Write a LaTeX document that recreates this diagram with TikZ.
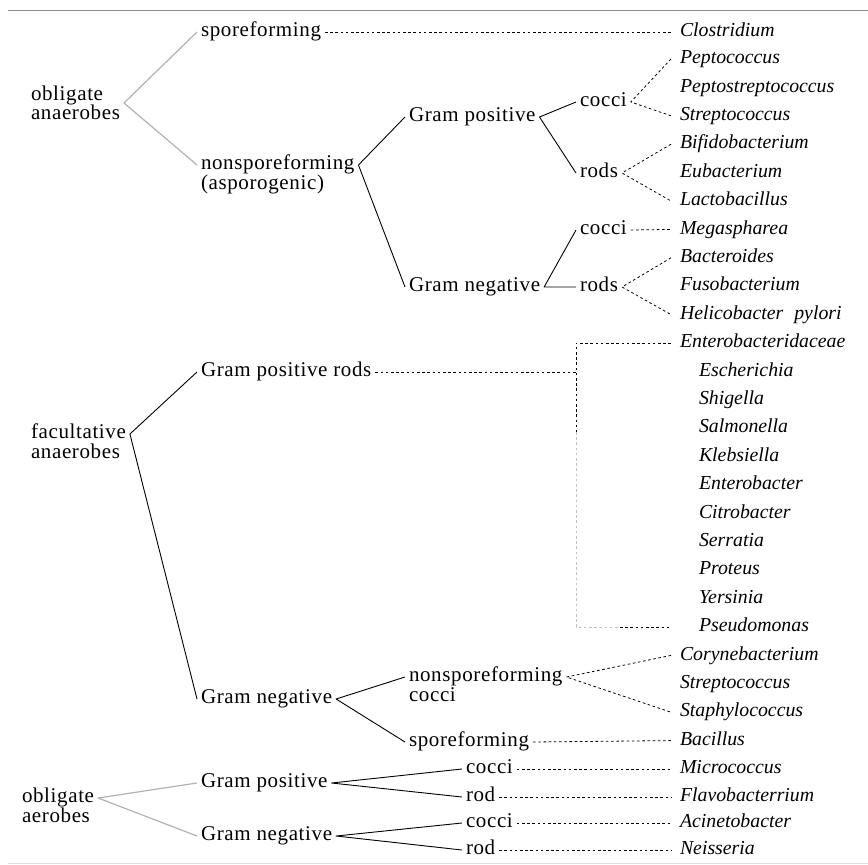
\documentclass[tikz,border=0pt]{standalone}
\usepackage{fontspec}
\setmainfont{Liberation Serif}[LetterSpace=3]
\newfontfamily\spfont{Liberation Serif}
\begin{document}
\begin{tikzpicture}[x=1pt,y=-1pt,
  lbl/.style={anchor=west,inner sep=0pt,outer xsep=4pt,font=\fontsize{21}{19}\selectfont,text height=13pt,text depth=3.5pt},
  lbltwo/.style={anchor=west,inner sep=0pt,outer xsep=4pt,font=\fontsize{21}{19.5}\selectfont,align=left},
  sp/.style={anchor=west,inner sep=0pt,outer xsep=9pt,font=\spfont\itshape\fontsize{19.8}{20}\selectfont,text height=13pt,text depth=3.5pt},
  ln/.style={line width=0.9pt,line join=round},
  gln/.style={line width=1.2pt,color=black!30,line join=round},
  dln/.style={line width=0.8pt,dash pattern=on 2.6pt off 2.6pt},
  rule/.style={line width=1pt},
]
\useasboundingbox (0,0) rectangle (868,865);
\draw[rule,black!45] (8,10) -- (868,10);
\draw[rule,black!12] (8,863) -- (868,863);

% ---- labels (upright)
\node[lbltwo] (oa) at (27,103) {obligate\\anaerobes};
\node[lbl] (spf) at (197,32) {sporeforming};
\node[lbl] (nsp) at (197,165) {nonsporeforming};
\node[lbl] (nsp2) at (197,185) {(asporogenic)};
\node[lbl] (gp1) at (405,117) {Gram positive};
\node[lbl] (gn1) at (405,287) {Gram negative};
\node[lbl] (c1) at (576,102) {cocci};
\node[lbl] (r1) at (576,173) {rods};
\node[lbl] (c2) at (576,230) {cocci};
\node[lbl] (r2) at (576,287) {rods};
\node[lbl] (fa) at (27,434) {facultative};
\node[lbl] (fa2) at (27,454) {anaerobes};
\node[lbl] (gpr) at (197,372) {Gram positive rods};
\node[lbl] (gn2) at (197,699) {Gram negative};
\node[lbl] (nsp3) at (405,677) {nonsporeforming};
\node[lbl] (nsp4) at (405,697) {cocci};
\node[lbl] (spf2) at (405,742) {sporeforming};
\node[lbl] (ob) at (18,798) {obligate};
\node[lbl] (ob2) at (18,818) {aerobes};
\node[lbl] (gp3) at (197,783) {Gram positive};
\node[lbl] (gn3) at (197,836) {Gram negative};
\node[lbl] (c3) at (462,769) {cocci};
\node[lbl] (r3) at (462,797) {rod};
\node[lbl] (c4) at (462,823) {cocci};
\node[lbl] (r4) at (462,850) {rod};

% ---- species (italic)
\node[sp] (clo) at (671,32) {Clostridium};
\node[sp] (pep) at (671,59) {Peptococcus};
\node[sp] (pst) at (671,87.4) {Peptostreptococcus};
\node[sp] (stra) at (671,115.8) {Streptococcus};
\node[sp] (bif) at (671,144.2) {Bifidobacterium};
\node[sp] (eub) at (671,172.6) {Eubacterium};
\node[sp] (lac) at (671,201) {Lactobacillus};
\node[sp] (meg) at (671,229.4) {Megaspharea};
\node[sp] (bac) at (671,257.8) {Bacteroides};
\node[sp] (fus) at (671,286.2) {Fusobacterium};
\node[sp] (hel) at (671,314.6) {Helicobacter\hspace{6pt} pylori};
\node[sp] (ent) at (671,343) {Enterobacteridaceae};
\node[sp] (esc) at (690,371.4) {Escherichia};
\node[sp] (shi) at (690,399.8) {Shigella};
\node[sp] (sal) at (690,428.2) {Salmonella};
\node[sp] (kle) at (690,456.6) {Klebsiella};
\node[sp] (enb) at (690,485) {Enterobacter};
\node[sp] (cit) at (690,513.4) {Citrobacter};
\node[sp] (ser) at (690,541.8) {Serratia};
\node[sp] (pro) at (690,570.2) {Proteus};
\node[sp] (yer) at (690,598.6) {Yersinia};
\node[sp] (pse) at (690,627) {Pseudomonas};
\node[sp] (cor) at (671,655.4) {Corynebacterium};
\node[sp] (strb) at (671,683.8) {Streptococcus};
\node[sp] (sta) at (671,712.2) {Staphylococcus};
\node[sp] (bcl) at (671,740.6) {Bacillus};
\node[sp] (mic) at (671,769) {Micrococcus};
\node[sp] (fla) at (671,797) {Flavobacterrium};
\node[sp] (aci) at (671,823) {Acinetobacter};
\node[sp] (nei) at (671,850) {Neisseria};

% ---- obligate anaerobes
\draw[gln] (spf.west) -- (oa.east) -- (nsp.west);
\draw[dln] (spf.east) -- (clo.west);
\draw[ln] (gp1.west) -- (nsp.east) -- (gn1.west);
\draw[ln] (c1.west) -- (gp1.east) -- (r1.west);
\draw[dln] (pep.west) -- (c1.east) -- (stra.west);
\draw[dln] (bif.west) -- (r1.east) -- (lac.west);
\draw[ln] (c2.west) -- (gn1.east) -- (r2.west);
\draw[dln] (c2.east) -- (meg.west);
\draw[dln] (bac.west) -- (r2.east) -- (hel.west);

% ---- facultative anaerobes
\draw[ln] (gpr.west) -- (fa.east) -- (gn2.west);
\coordinate (brt) at (576,343);
\coordinate (brm) at (576,372);
\coordinate (brg) at (576,432);
\coordinate (brb) at (576,627);
\coordinate (brk) at (620,627);
\draw[dln] (gpr.east) -- (brm);
\draw[dln] (ent.west) -- (brt) -- (brg);
\draw[dln,black!25] (brg) -- (brb) -- (brk);
\draw[dln] (brk) -- ([xshift=-20pt]pse.west);
\draw[ln] (nsp3.west) -- (gn2.east) -- (spf2.west);
\draw[dln] (cor.west) -- (nsp3.east) -- (sta.west);
\draw[dln] (spf2.east) -- (bcl.west);

% ---- obligate aerobes
\draw[gln] (gp3.west) -- (ob.east) -- (gn3.west);
\draw[ln] (c3.west) -- (gp3.east) -- (r3.west);
\draw[ln] (c4.west) -- (gn3.east) -- (r4.west);
\draw[dln] (c3.east) -- (mic.west);
\draw[dln] (r3.east) -- (fla.west);
\draw[dln] (c4.east) -- (aci.west);
\draw[dln] (r4.east) -- (nei.west);
\end{tikzpicture}
\end{document}
